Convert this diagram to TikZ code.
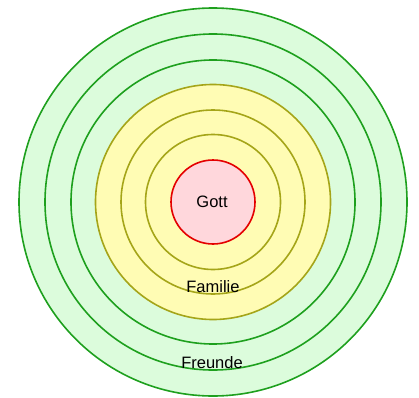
\documentclass[tikz,border=0pt]{standalone}
\usepackage{fontspec}
\setmainfont{Liberation Sans}
\definecolor{gfill}{RGB}{220,252,220}
\definecolor{gline}{RGB}{30,160,30}
\definecolor{yfill}{RGB}{255,252,180}
\definecolor{yline}{RGB}{165,165,25}
\definecolor{rfill}{RGB}{255,215,220}
\definecolor{rline}{RGB}{228,0,0}
\tikzset{
  gring/.style={draw=gline, fill=gfill, line width=1.6pt},
  yring/.style={draw=yline, fill=yfill, line width=1.6pt},
  rring/.style={draw=rline, fill=rfill, line width=1.6pt},
  lbl/.style={font=\fontsize{16.5}{19}\selectfont, inner sep=0pt}
}
\begin{document}
\begin{tikzpicture}[x=1pt,y=1pt]
\useasboundingbox (0,0) rectangle (419,397);
\coordinate (c) at (213,195);
\draw[gring] (c) circle[radius=194];
\draw[gring] (c) circle[radius=168];
\draw[gring] (c) circle[radius=142];
\draw[yring] (c) circle[radius=117.5];
\draw[yring] (c) circle[radius=92];
\draw[yring] (c) circle[radius=67.5];
\draw[rring] (c) circle[radius=42];
\node[lbl] (gott) at (212,195) {Gott};
\node[lbl] (familie) at (213,110) {Familie};
\node[lbl] (freunde) at (212,34) {Freunde};
\end{tikzpicture}
\end{document}
